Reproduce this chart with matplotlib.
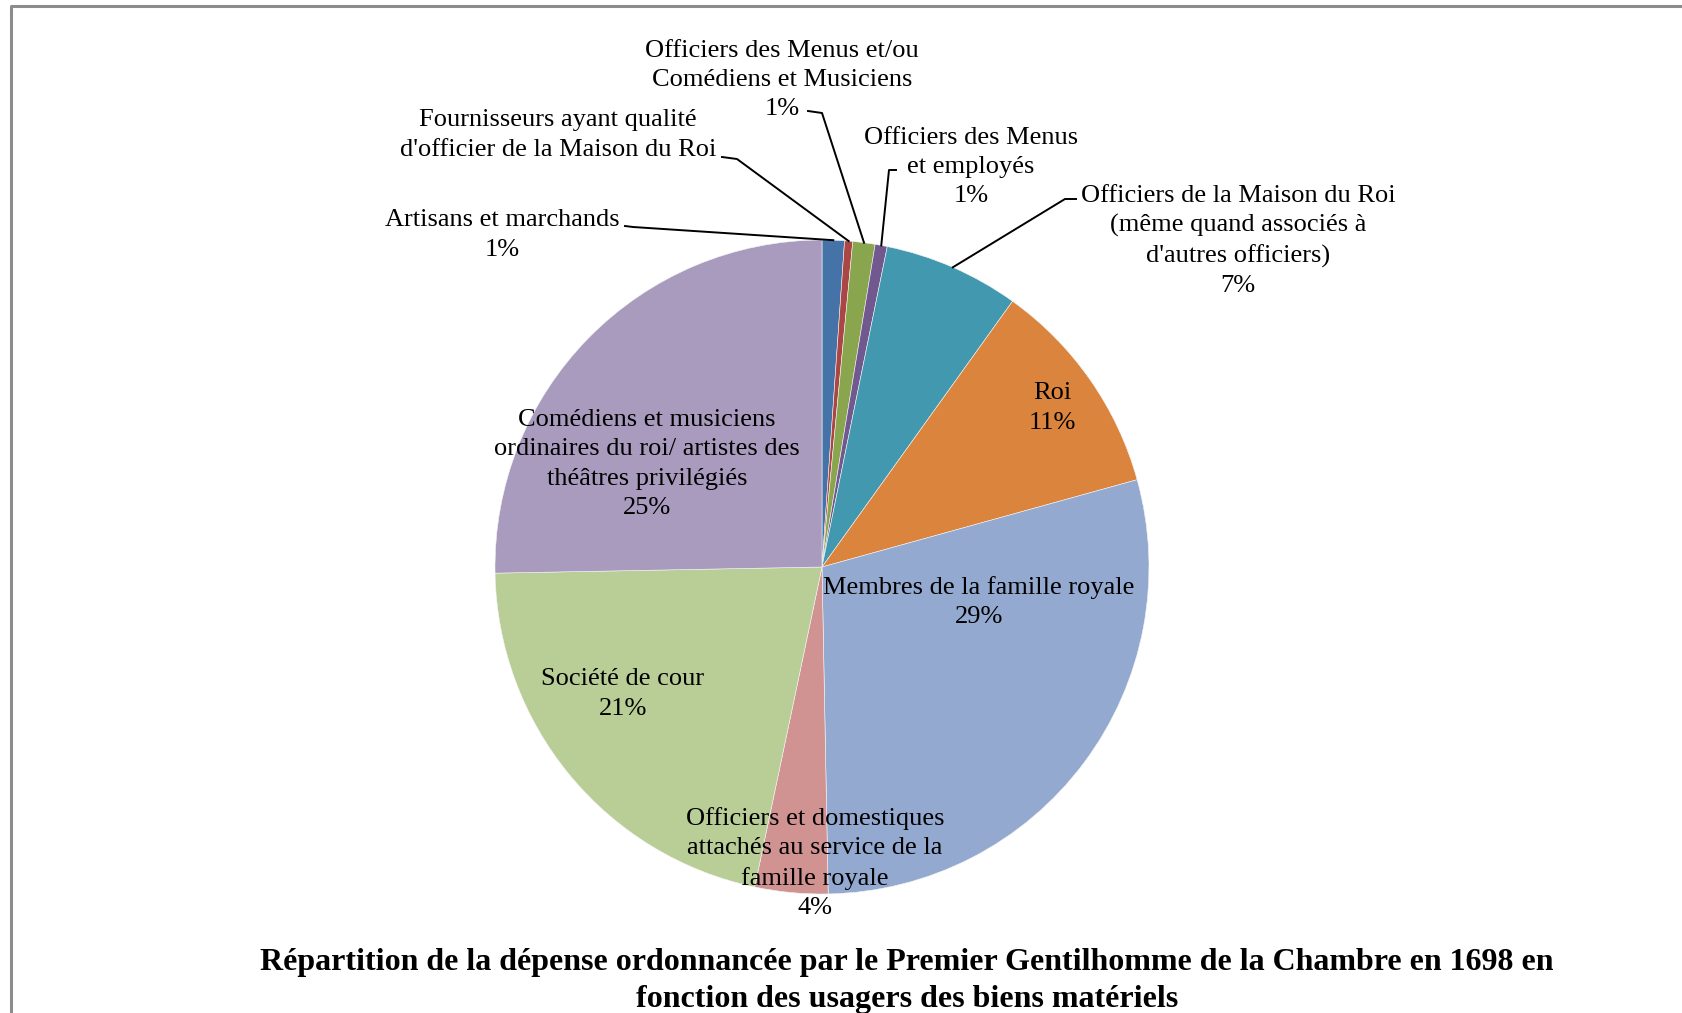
import numpy as np
import matplotlib.pyplot as plt
from matplotlib.lines import Line2D

# parts of the expense, clockwise from the top
categories = [
    "Artisans et marchands",
    "Fournisseurs ayant qualité\nd'officier de la Maison du Roi",
    "Officiers des Menus et/ou\nComédiens et Musiciens",
    "Officiers des Menus\net employés",
    "Officiers de la Maison du Roi\n(même quand associés à\nd'autres officiers)",
    "Roi",
    "Membres de la famille royale",
    "Officiers et domestiques\nattachés au service de la\nfamille royale",
    "Société de cour",
    "Comédiens et musiciens\nordinaires du roi/ artistes des\nthéâtres privilégiés",
]
values = [1.1, 0.4, 1.1, 0.6, 6.7, 10.8, 29.0, 3.6, 21.4, 25.3]
colors = ["#4572A7", "#AA4643", "#89A54E", "#71588F", "#4198AF",
          "#DB843D", "#93A9CF", "#D19392", "#B9CD96", "#A99BBD"]

title = ("Répartition de la dépense ordonnancée par le Premier Gentilhomme de la Chambre en 1698 en\n"
         "fonction des usagers des biens matériels")

W, H = 1683, 1013
plt.rcParams["font.family"] = ["Liberation Serif", "DejaVu Serif"]

fig = plt.figure(figsize=(W / 100, H / 100), dpi=100)
ax = fig.add_axes([0, 0, 1, 1])

cx, cy, r = 822, H - 567, 327
wedges, _ = ax.pie(values, colors=colors, startangle=90, counterclock=False,
                   center=(cx, cy), radius=r, frame=True,
                   wedgeprops=dict(linewidth=0.4, edgecolor="#f4f4f4"))
ax.set_xlim(0, W)
ax.set_ylim(0, H)
ax.set_aspect("equal")
ax.axis("off")

fs = 19
ls = 1.42


def label_text(i):
    pct = round(values[i])
    if pct >= 1:
        return categories[i] + "\n%d%%" % pct
    return categories[i]


# labels inside the pie / just below it: (x, y) in px from top
inside = {5: (1052, 408), 6: (979, 602), 7: (815, 863), 8: (623, 694), 9: (647, 464)}
for i, (x, y) in inside.items():
    ax.text(x, H - y, label_text(i), ha="center", va="center", fontsize=fs,
            linespacing=ls)

# outside labels with leader lines: text centre, elbow start, elbow end
outside = {
    0: ((502, 235), (625, 226), (633, 227)),
    1: ((558, 135), (722, 157), (737, 159)),
    2: ((782, 80), (808, 111), (822, 113)),
    3: ((971, 167), (896, 170), (889, 170)),
    4: ((1238, 241), (1076, 199), (1065, 199)),
}
for i, ((x, y), p0, p1) in outside.items():
    ax.text(x, H - y, label_text(i), ha="center", va="center", fontsize=fs,
            linespacing=ls)
    w = wedges[i]
    mid = np.deg2rad((w.theta1 + w.theta2) / 2)
    ex, ey = cx + r * np.cos(mid), cy + r * np.sin(mid)
    ax.add_line(Line2D([p0[0], p1[0], ex], [H - p0[1], H - p1[1], ey],
                       color="black", linewidth=1.4))

ax.text(907, H - 981, title, ha="center", va="center", fontsize=23,
        fontweight="bold", linespacing=1.35)

# chart border (cut at right and bottom)
ax.add_line(Line2D([11, 11, W + 5], [-5, H - 6, H - 6], color="#8c8c8c", linewidth=2.2))

fig.savefig("out.png", dpi=100)
